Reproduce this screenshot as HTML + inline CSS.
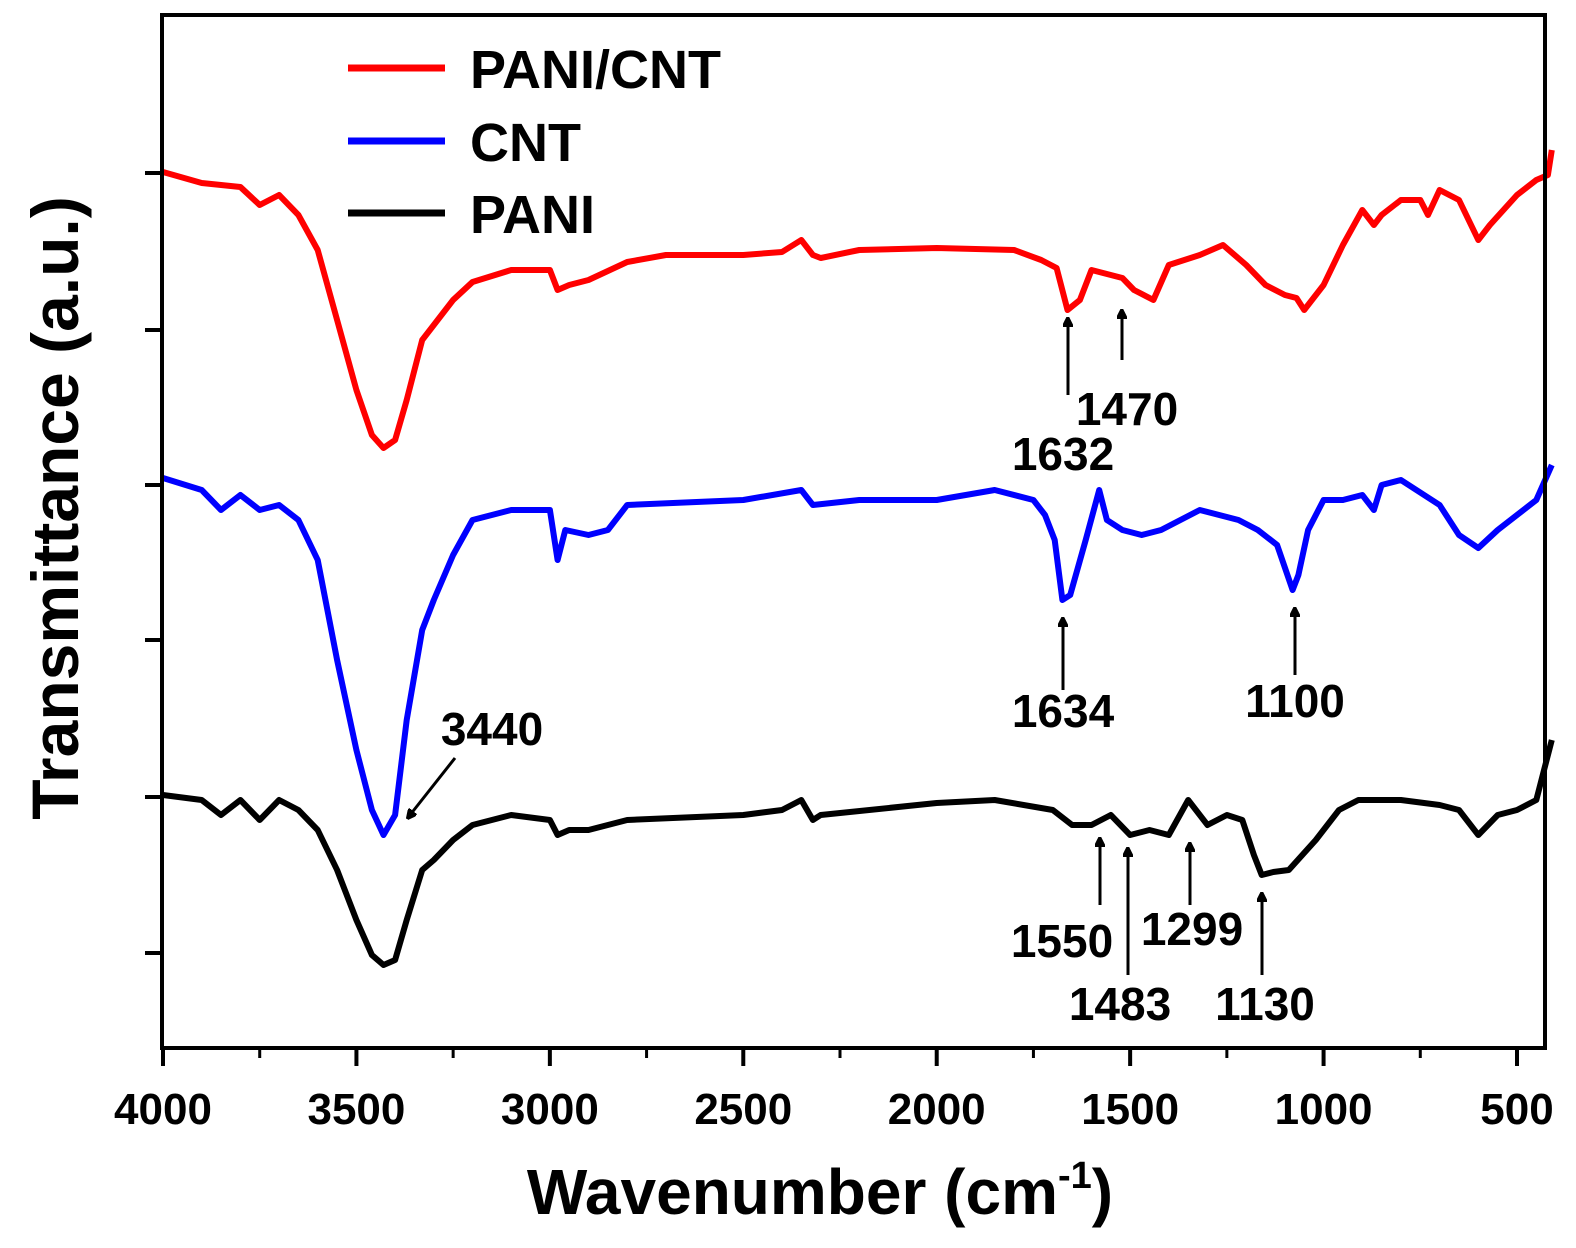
<!DOCTYPE html>
<html><head><meta charset="utf-8"><style>
html,body{margin:0;padding:0;background:#fff}
svg{display:block;font-family:"Liberation Sans",Arial,sans-serif;font-weight:bold}
</style></head><body>
<svg id="chart" width="1576" height="1248" viewBox="0 0 1576 1248" xmlns="http://www.w3.org/2000/svg">
<defs><marker id="ah" markerWidth="10" markerHeight="10" refX="5" refY="5" orient="auto" markerUnits="userSpaceOnUse"><path d="M0,0 L10,5 L0,10 z" fill="#000" transform="scale(1.6) translate(-2,-2)"/></marker></defs>
<g id="plot"></g>
<rect x="162" y="15" width="1383" height="1033" fill="none" stroke="#000" stroke-width="4"/>
<text x="820" y="1214" text-anchor="middle" font-size="64">Wavenumber (cm<tspan font-size="38" dy="-26">-1</tspan><tspan dy="26">)</tspan></text>
<text transform="translate(78,508) rotate(-90)" text-anchor="middle" font-size="66">Transmittance (a.u.)</text>
<g>
<line x1="348" y1="68" x2="445" y2="68" stroke="#f00" stroke-width="7"/>
<text x="470" y="88" font-size="54">PANI/CNT</text>
<line x1="348" y1="141" x2="445" y2="141" stroke="#00f" stroke-width="7"/>
<text x="470" y="161" font-size="54">CNT</text>
<line x1="348" y1="213" x2="445" y2="213" stroke="#000" stroke-width="7"/>
<text x="470" y="233" font-size="54">PANI</text>
</g>
</svg>
<script>
const xTicks=[4000,3500,3000,2500,2000,1500,1000,500];
const xMinor=[3750,3250,2750,2250,1750,1250,750];
const waveRed=[4000,3900,3800,3750,3700,3650,3600,3550,3500,3460,3430,3400,3370,3330,3300,3250,3200,3100,3000,2980,2950,2900,2800,2700,2500,2400,2350,2320,2300,2200,2000,1800,1730,1690,1662,1630,1600,1520,1490,1440,1400,1320,1260,1200,1150,1100,1070,1050,1000,950,900,870,850,800,750,730,700,650,600,570,500,450,420,410];
const pxRed=[172,183,187,205,195,215,250,320,390,435,448,440,400,340,325,300,282,270,270,290,285,280,262,255,255,252,240,255,258,250,248,250,260,268,310,300,270,278,290,300,265,255,245,265,285,295,298,310,285,245,210,225,215,200,200,215,190,200,240,225,195,180,175,150];
const valRed=pxRed.map(p=>(1048-p)/10);
const waveBlue=[4000,3900,3850,3800,3750,3700,3650,3600,3550,3500,3460,3430,3400,3370,3330,3300,3250,3200,3100,3000,2980,2960,2900,2850,2800,2500,2350,2320,2200,2000,1850,1750,1720,1695,1675,1655,1615,1580,1560,1520,1470,1420,1320,1220,1170,1120,1080,1065,1040,1000,950,900,870,850,800,700,650,600,550,500,450,410];
const pxBlue=[478,490,510,495,510,505,520,560,660,750,810,835,815,720,630,600,555,520,510,510,560,530,535,530,505,500,490,505,500,500,490,500,515,540,600,595,540,490,520,530,535,530,510,520,530,545,590,575,530,500,500,495,510,485,480,505,535,548,530,515,500,465];
const valBlue=pxBlue.map(p=>(1048-p)/10);
const waveBlack=[4000,3900,3850,3800,3750,3700,3650,3600,3550,3500,3460,3430,3400,3370,3330,3300,3250,3200,3100,3000,2980,2950,2900,2800,2500,2400,2350,2320,2300,2000,1850,1700,1650,1600,1550,1500,1450,1400,1350,1300,1250,1210,1180,1160,1130,1090,1020,960,910,800,700,650,600,550,500,450,410];
const pxBlack=[795,800,815,800,820,800,810,830,870,920,955,965,960,920,870,860,840,825,815,820,835,830,830,820,815,810,800,820,815,803,800,810,825,825,815,835,830,835,800,825,815,820,855,875,872,870,840,810,800,800,805,810,835,815,810,800,740];
const valBlack=pxBlack.map(p=>(1048-p)/10);

function X(w){return 163+(4000-w)*(1517-163)/3500;}
function Y(v){return 1048-v*10;}
const NS="http://www.w3.org/2000/svg";
const g=document.getElementById('plot');
function mk(t,a){const e=document.createElementNS(NS,t);for(const k in a)e.setAttribute(k,a[k]);g.appendChild(e);return e;}
xTicks.forEach(w=>{
  const l=mk('line',{x1:X(w),y1:1048,x2:X(w),y2:1066,stroke:'#000','stroke-width':4});
  
  
  const t=mk('text',{x:X(w),y:1124,'text-anchor':'middle','font-size':44});
  t.textContent=w;
  
  
});
xMinor.forEach(w=>{
  const l=mk('line',{x1:X(w),y1:1048,x2:X(w),y2:1058,stroke:'#000','stroke-width':3});
  
  
});
const yPix=[173,330,485,640,797,953];
yPix.forEach(p=>{
  const l=mk('line',{x1:145,y1:p,x2:162,y2:p,stroke:'#000','stroke-width':4});
  
  
});
function series(ws,vs,col,name){
  const d=ws.map((w,i)=>(i?'L':'M')+X(w).toFixed(1)+','+Y(vs[i]).toFixed(1)).join(' ');
  const p=mk('path',{d:d,fill:'none',stroke:col,'stroke-width':6,'stroke-linejoin':'round'});
  
  
}
series(waveRed,valRed,'#f00','series-pani-cnt');
series(waveBlue,valBlue,'#00f','series-cnt');
series(waveBlack,valBlack,'#000','series-pani');
const annLabels=['1632','1470','1634','1100','3440','1550','1483','1299','1130'];
const annText=[[1063,470],[1127,425],[1063,727],[1295,717],[492,745],[1062,957],[1120,1020],[1192,945],[1265,1020]];
const annArrow=[[1068,395,1068,322],[1122,360,1122,314],[1063,690,1063,622],[1295,675,1295,612],[455,758,410,815],[1100,905,1100,842],[1128,975,1128,852],[1190,905,1190,847],[1262,975,1262,897]];
annLabels.forEach((s,i)=>{
  const a=annArrow[i];
  const l=mk('line',{x1:a[0],y1:a[1],x2:a[2],y2:a[3],stroke:'#000','stroke-width':3,'marker-end':'url(#ah)'});
  
  
  const t=mk('text',{x:annText[i][0],y:annText[i][1],'text-anchor':'middle','font-size':46});
  t.textContent=s;
  
  
});
</script>
</body></html>
